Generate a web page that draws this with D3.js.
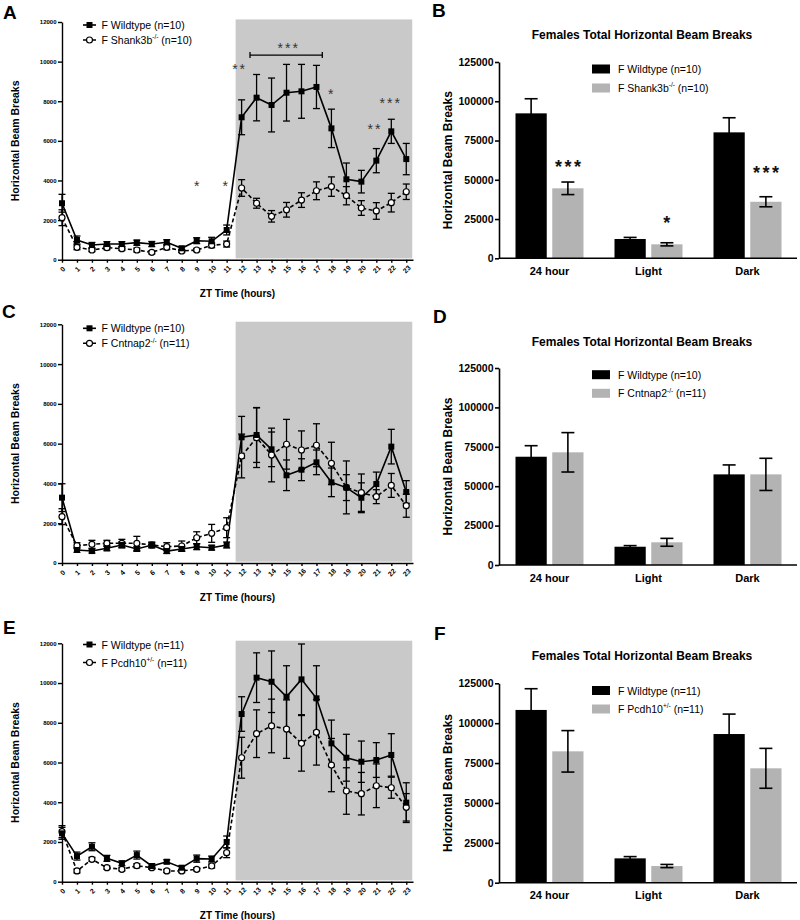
<!DOCTYPE html>
<html><head><meta charset="utf-8">
<script src="https://cdn.jsdelivr.net/npm/d3@7"></script>
<style>
body{margin:0;background:#fff}
svg{display:block}
text{font-family:"Liberation Sans",Arial,sans-serif}
</style>
</head><body>
<svg id="c" width="800" height="920"></svg>
<script>
// ---------- DATA ----------
const hours = [0,1,2,3,4,5,6,7,8,9,10,11,12,13,14,15,16,17,18,19,20,21,22,23];
const lineYTicks = [0,2000,4000,6000,8000,10000,12000];
const barYTicks = [0,25000,50000,75000,100000,125000];
const barCats = ["24 hour","Light","Dark"];
const darkStart = 11.6, darkEnd = 23.4;

// Panel A: Shank3b
const A_wt     = [2850,995,740,790,790,860,790,880,575,960,930,1500,7190,8180,7810,8430,8500,8720,6630,4060,3940,5000,6480,5080];
const A_wt_err = [450,200,130,120,120,130,130,130,100,150,200,250,880,1170,1360,1430,1360,1090,970,820,570,610,610,790];
const A_ko     = [2120,626,490,606,555,490,373,626,440,490,725,790,3620,2850,2190,2520,3010,3480,3690,3230,2610,2460,2880,3430];
const A_ko_err = [400,120,80,100,90,100,80,120,80,80,120,150,420,250,290,370,370,450,490,460,370,420,470,390];
const A_legend = [["F Wildtype (n=10)","",""],["F Shank3b","-/-"," (n=10)"]];
// significance marks: [hour, value, label]
const A_sig = [[9,3890,"*"],[10.9,3890,"*"],[11.8,9790,"**"],[15.08,10870,"***"],[17.95,8515,"*"],[20.84,6750,"**"],[21.9,8060,"***"]];
const A_bracket = [12.56,17.39,10330];

// Panel C: Cntnap2
const C_wt     = [3285,655,600,740,905,705,905,600,705,820,770,905,6320,6435,5715,4410,4690,5060,4055,3790,3280,3970,5850,3570];
const C_wt_err = [700,120,100,120,150,120,120,120,120,150,120,150,1050,1380,870,770,550,620,720,650,750,600,870,570];
const C_ko     = [2330,870,940,990,990,990,905,820,855,1270,1490,1775,5380,6300,5430,5970,5680,5920,5010,3800,3535,3335,3900,2880];
const C_ko_err = [400,150,200,150,200,350,150,200,250,300,450,500,1100,1500,1350,1250,960,1080,1060,1330,940,350,600,580];
const C_legend = [["F Wildtype (n=10)","",""],["F Cntnap2","-/-"," (n=11)"]];

// Panel E: Pcdh10
const E_wt     = [2435,1290,1760,1175,925,1340,790,1005,705,1160,1140,2000,8440,10270,10065,9310,10185,9230,6965,6240,6040,6125,6380,3980];
const E_wt_err = [300,200,200,150,120,200,120,100,100,180,150,300,870,1250,1550,1560,1780,1640,1170,1180,1040,875,1070,1000];
const E_ko     = [2520,540,1125,705,625,805,705,540,540,625,790,1460,6240,7450,7840,7680,6965,7520,5870,4565,4430,4830,4730,3745];
const E_ko_err = [300,100,100,80,80,100,80,80,80,80,100,250,1030,1200,1350,1470,1400,1650,1340,1170,1070,1100,530,690];
const E_legend = [["F Wildtype (n=11)","",""],["F Pcdh10","+/-"," (n=11)"]];

// Bar panels
const B_wt = [92300,12300,80200],  B_wt_err = [9300,1000,9300];
const B_ko = [44570,8900,36000],   B_ko_err = [4000,1000,3200];
const B_sig = ["***","*","***"], B_sigVal = [60690,25660,57500];
const D_wt = [68700,11600,57500],  D_wt_err = [7000,700,6000];
const D_ko = [71500,14400,57500],  D_ko_err = [12500,2500,10200];
const F_wt = [108300,15260,93200], F_wt_err = [13300,1100,12500];
const F_ko = [82350,10450,71700],  F_ko_err = [13000,1000,12500];

const barTitle = "Females Total Horizontal Beam Breaks";
const yTitle = "Horizontal Beam Breaks";
const xTitle = "ZT Time (hours)";

// ---------- DRAW ----------
const svg = d3.select("#c");
const GRAYBG = "#c9c9c9", GRAYBAR = "#b3b3b3";

function legendText(sel, parts, size){
  const t = sel.append("text").attr("font-size", size).attr("dominant-baseline","central");
  t.append("tspan").text(parts[0]);
  if (parts[1]) {
    t.append("tspan").attr("font-size", size*0.62).attr("dy", -size*0.35).text(parts[1]);
    t.append("tspan").attr("dy", size*0.35).text(parts[2]);
  }
  return t;
}

function drawLine(o){
  const x = d3.scaleLinear().domain([0,23.45]).range([62,413]);
  const y = d3.scaleLinear().domain([0,12000]).range([o.y0,o.y1]);
  const g = svg.append("g");

  g.append("rect").attr("x",x(darkStart)).attr("width",x(darkEnd)-x(darkStart))
    .attr("y",y(12130)).attr("height",y(0)-1.3-y(12130)).attr("fill",GRAYBG);

  const ya = g.append("g").attr("transform","translate(62,0)")
    .call(d3.axisLeft(y).tickValues(lineYTicks).tickSize(4).tickSizeOuter(0).tickPadding(1.5).tickFormat(d3.format("d")));
  ya.selectAll("text").attr("font-size",6).attr("font-weight","bold").attr("fill","#000");
  const xa = g.append("g").attr("transform",`translate(0,${o.y0})`)
    .call(d3.axisBottom(x).tickValues(hours).tickSize(3).tickSizeOuter(0).tickFormat(d3.format("d")));
  xa.selectAll("text").attr("y",0).attr("dy",null)
    .attr("transform","translate(0,9.5) rotate(-45)")
    .attr("text-anchor","middle").attr("dominant-baseline","central")
    .attr("font-size",7).attr("font-weight","bold").attr("fill","#000");
  [ya,xa].forEach(a=>{ a.selectAll("path,line").attr("stroke","#000").attr("stroke-width",1.4); });

  const series = [
    {v:o.ko, e:o.koErr, dash:"4,2.5", ko:true},
    {v:o.wt, e:o.wtErr, dash:null, ko:false}
  ];
  series.forEach(s=>{
    const eb = g.append("g").attr("stroke","#000").attr("stroke-width",1.3);
    s.v.forEach((v,i)=>{
      const cx = x(hours[i]);
      eb.append("line").attr("x1",cx).attr("x2",cx).attr("y1",y(v-s.e[i])).attr("y2",y(v+s.e[i]));
      [v-s.e[i], v+s.e[i]].forEach(yy=>{
        eb.append("line").attr("x1",cx-3.5).attr("x2",cx+3.5).attr("y1",y(yy)).attr("y2",y(yy));
      });
    });
    const line = d3.line().x((d,i)=>x(hours[i])).y(d=>y(d));
    g.append("path").datum(s.v).attr("d",line).attr("fill","none").attr("stroke","#000")
      .attr("stroke-width",1.6).attr("stroke-dasharray",s.dash);
  });
  series.forEach(s=>{
    if (s.ko) {
      g.selectAll(null).data(s.v).enter().append("circle")
        .attr("cx",(d,i)=>x(hours[i])).attr("cy",d=>y(d)).attr("r",3)
        .attr("fill","#fff").attr("stroke","#000").attr("stroke-width",1.2);
    } else {
      g.selectAll(null).data(s.v).enter().append("rect")
        .attr("x",(d,i)=>x(hours[i])-3).attr("y",d=>y(d)-3).attr("width",6).attr("height",6).attr("fill","#000");
    }
  });

  o.legend.forEach((parts,k)=>{
    const ly = o.legY + k*o.legStep;
    g.append("line").attr("x1",83).attr("x2",96).attr("y1",ly).attr("y2",ly).attr("stroke","#000")
      .attr("stroke-width",1.6).attr("stroke-dasharray",k===1?"3,2":null);
    if (k===1) g.append("circle").attr("cx",89.5).attr("cy",ly).attr("r",3).attr("fill","#fff").attr("stroke","#000").attr("stroke-width",1.2);
    else g.append("rect").attr("x",86.5).attr("y",ly-3).attr("width",6).attr("height",6).attr("fill","#000");
    legendText(g.append("g").attr("transform",`translate(101.5,${ly})`), parts, 10.5);
  });

  if (o.sig) {
    o.sig.forEach(([h,v,lab])=>{
      g.append("text").attr("x",x(h)+(lab.length>1?1:0)).attr("y",y(v)+8.2).attr("text-anchor","middle")
        .attr("font-size",14).attr("letter-spacing",lab.length>1?2:0).attr("fill","#333").text(lab);
    });
  }
  if (o.bracket) {
    const [a,b,v] = o.bracket;
    const bg = g.append("g").attr("stroke","#000").attr("stroke-width",1.3);
    bg.append("line").attr("x1",x(a)).attr("x2",x(b)).attr("y1",y(v)).attr("y2",y(v));
    [a,b].forEach(h=>bg.append("line").attr("x1",x(h)).attr("x2",x(h)).attr("y1",y(v)-3).attr("y2",y(v)+3));
  }

  g.append("text").attr("transform",`translate(15,${(o.y0+o.y1)/2}) rotate(-90)`).attr("text-anchor","middle")
    .attr("dominant-baseline","central").attr("font-size",10.5).attr("font-weight","bold").text(yTitle);
  g.append("text").attr("x",237.5).attr("y",o.y0+37.5).attr("text-anchor","middle")
    .attr("font-size",10).attr("font-weight","bold").text(xTitle);
  g.append("text").attr("x",o.lx).attr("y",o.ly).attr("font-size",19).attr("font-weight","bold").text(o.letter);
}

function drawBar(o){
  const x0 = d3.scaleBand().domain(barCats).range([500,797]);
  const x1 = d3.scaleBand().domain(["wt","ko"]).range([-34,34]).paddingInner(0.15);
  const y = d3.scaleLinear().domain([0,125000]).range([o.y0,o.y1]);
  const g = svg.append("g");
  const groups = [
    {k:"wt", v:o.wt, e:o.wtErr, fill:"#000"},
    {k:"ko", v:o.ko, e:o.koErr, fill:GRAYBAR}
  ];
  groups.forEach(s=>{
    s.v.forEach((v,i)=>{
      const bx = x0(barCats[i]) + x0.bandwidth()/2 + x1(s.k);
      g.append("rect").attr("x",bx).attr("width",x1.bandwidth()).attr("y",y(v)).attr("height",y(0)-y(v)).attr("fill",s.fill);
      const cx = bx + x1.bandwidth()/2;
      const eg = g.append("g").attr("stroke","#000").attr("stroke-width",1.6);
      eg.append("line").attr("x1",cx).attr("x2",cx).attr("y1",y(v-s.e[i])).attr("y2",y(v+s.e[i]));
      [v-s.e[i], v+s.e[i]].forEach(yy=>eg.append("line").attr("x1",cx-6.5).attr("x2",cx+6.5).attr("y1",y(yy)).attr("y2",y(yy)));
    });
  });
  const ya = g.append("g").attr("transform","translate(499,0)")
    .call(d3.axisLeft(y).tickValues(barYTicks).tickSize(4).tickSizeOuter(0).tickPadding(1.5).tickFormat(d3.format("d")));
  ya.selectAll("text").attr("font-size",10.5).attr("font-weight","bold").attr("fill","#000");
  const xa = g.append("g").attr("transform",`translate(0,${o.y0})`)
    .call(d3.axisBottom(x0).tickSize(0).tickSizeOuter(0).tickPadding(9));
  xa.select(".domain").attr("d",`M499,0H797`);
  xa.selectAll("text").attr("font-size",11).attr("font-weight","bold").attr("fill","#000");
  [ya,xa].forEach(a=>a.selectAll("path,line").attr("stroke","#000").attr("stroke-width",1.6));

  if (o.sig) {
    o.sig.forEach((lab,i)=>{
      const cx = x0(barCats[i]) + x0.bandwidth()/2 + x1("ko") + x1.bandwidth()/2;
      g.append("text").attr("x",cx+(lab.length>1?1.5:0)).attr("y",y(o.sigVal[i])+10.5).attr("text-anchor","middle")
        .attr("font-size",18).attr("font-weight","bold").attr("letter-spacing",lab.length>1?2.5:0).attr("fill","#111").text(lab);
    });
  }

  o.legend.forEach((parts,k)=>{
    const ly = o.legY + k*o.legStep;
    g.append("rect").attr("x",592).attr("y",ly-4.5).attr("width",18).attr("height",9).attr("fill",k===0?"#000":GRAYBAR);
    legendText(g.append("g").attr("transform",`translate(618,${ly})`), parts, 10.5);
  });
  g.append("text").attr("x",642).attr("y",o.titleY).attr("text-anchor","middle").attr("font-size",12)
    .attr("font-weight","bold").text(barTitle);
  g.append("text").attr("transform",`translate(448,${(o.y0+o.y1)/2}) rotate(-90)`).attr("text-anchor","middle")
    .attr("dominant-baseline","central").attr("font-size",12).attr("font-weight","bold").text(yTitle);
  g.append("text").attr("x",o.lx).attr("y",o.ly).attr("font-size",19).attr("font-weight","bold").text(o.letter);
}

drawLine({letter:"A",lx:3,ly:19,y0:259.7,y1:22,wt:A_wt,wtErr:A_wt_err,ko:A_ko,koErr:A_ko_err,legend:A_legend,legY:25,legStep:15,sig:A_sig,bracket:A_bracket});
drawLine({letter:"C",lx:2,ly:318,y0:563,y1:324.3,wt:C_wt,wtErr:C_wt_err,ko:C_ko,koErr:C_ko_err,legend:C_legend,legY:328.3,legStep:15});
drawLine({letter:"E",lx:3,ly:634,y0:881.7,y1:643.3,wt:E_wt,wtErr:E_wt_err,ko:E_ko,koErr:E_ko_err,legend:E_legend,legY:644.5,legStep:18});

drawBar({letter:"B",lx:432,ly:17,y0:258.3,y1:62,titleY:39,wt:B_wt,wtErr:B_wt_err,ko:B_ko,koErr:B_ko_err,legend:A_legend,legY:69,legStep:19,sig:B_sig,sigVal:B_sigVal});
drawBar({letter:"D",lx:433,ly:323,y0:565,y1:368,titleY:346,wt:D_wt,wtErr:D_wt_err,ko:D_ko,koErr:D_ko_err,legend:C_legend,legY:374.7,legStep:18.6});
drawBar({letter:"F",lx:434,ly:640,y0:882.7,y1:683.3,titleY:660,wt:F_wt,wtErr:F_wt_err,ko:F_ko,koErr:F_ko_err,legend:E_legend,legY:690.5,legStep:18.5});
</script>
</body></html>
